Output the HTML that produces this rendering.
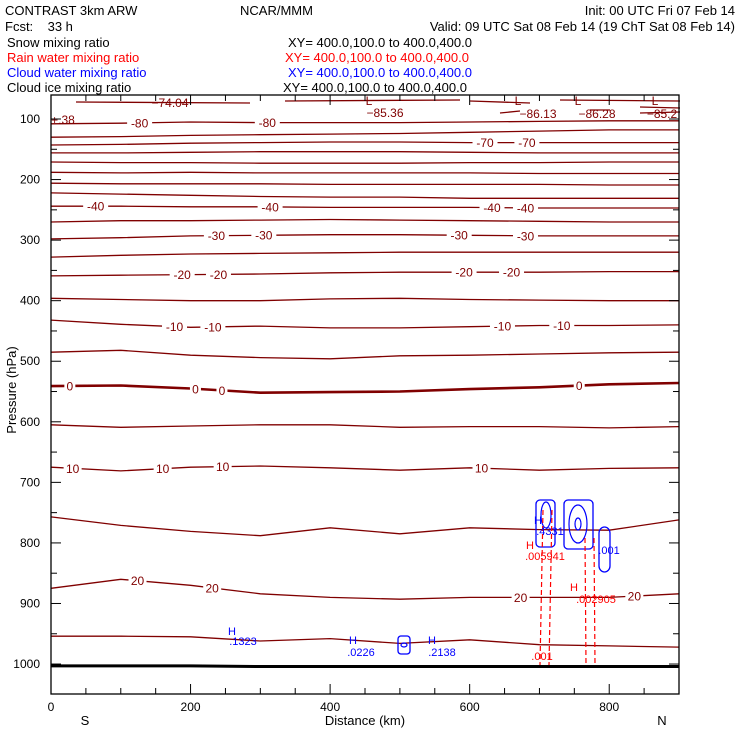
<!DOCTYPE html>
<html><head><meta charset="utf-8"><style>
html,body{margin:0;padding:0;background:#fff;}
svg{display:block;font-family:"Liberation Sans",sans-serif;}
</style></head><body>
<svg id="chart" width="740" height="740" viewBox="0 0 740 740">
<g font-size="13" fill="#000">
<text x="5" y="15">CONTRAST  3km ARW</text>
<text x="240" y="15">NCAR/MMM</text>
<text x="735" y="15" text-anchor="end">Init: 00 UTC Fri 07 Feb 14</text>
<text x="5" y="31" xml:space="preserve">Fcst:    33 h</text>
<text x="735" y="31" text-anchor="end">Valid: 09 UTC Sat 08 Feb 14 (19 ChT Sat 08 Feb 14)</text>
<text x="7" y="47">Snow mixing ratio</text>
<text x="288" y="47">XY= 400.0,100.0 to 400.0,400.0</text>
<text x="7" y="62" fill="#ff0000">Rain water mixing ratio</text>
<text x="285" y="62" fill="#ff0000">XY= 400.0,100.0 to 400.0,400.0</text>
<text x="7" y="77" fill="#0000ff">Cloud water mixing ratio</text>
<text x="288" y="77" fill="#0000ff">XY= 400.0,100.0 to 400.0,400.0</text>
<text x="7" y="92">Cloud ice mixing ratio</text>
<text x="283" y="92">XY= 400.0,100.0 to 400.0,400.0</text>
</g>
<g id="plot"></g>
<g id="axes"></g>
</svg>
<script>
// ---- data ----
const distKm = [0,100,200,300,400,500,600,700,800,900];
const levels = [-80,-75,-70,-65,-60,-55,-50,-45,-40,-35,-30,-25,-20,-15,-10,-5,0,5,10,15,20,25];
const levelP = [
 [108,107,105,106,106,106,105,104,103,103],
 [130,129,127,126,125,124,122,120,118,118],
 [143,142,140,139,138,138,139,139,139,139],
 [156,156,155,154,154,154,155,156,156,156],
 [171,172,172,173,173,173,172,172,171,171],
 [188,189,188,189,189,189,189,190,190,190],
 [206,207,207,207,208,208,208,208,209,209],
 [222,224,226,228,229,229,231,231,231,231],
 [244,244,245,245,246,246,246,247,247,247],
 [270,268,268,267,266,267,268,269,270,270],
 [298,296,293,292,291,291,292,293,293,293],
 [328,325,323,322,321,320,320,320,320,320],
 [359,358,357,356,354,353,353,353,352,352],
 [396,398,400,400,397,396,398,399,400,400],
 [432,439,444,442,445,445,443,441,441,440],
 [485,482,490,494,496,491,490,488,486,485],
 [541,540,545,552,551,550,546,543,538,536],
 [605,609,607,605,605,609,608,608,610,608],
 [675,681,675,673,676,680,676,680,677,676],
 [757,771,781,788,775,785,775,778,779,762],
 [875,860,870,884,890,893,890,890,890,884],
 [954,954,955,962,958,966,960,968,970,972]
];
const groundP = [1003,1003,1003,1004,1004,1004,1004,1004,1004,1004];
const labelLevels = [-80,-80,-70,-70,-40,-40,-40,-40,-30,-30,-30,-30,-20,-20,-20,-20,-10,-10,-10,-10,0,0,0,0,10,10,10,10,20,20,20,20];
const labelKm = [127,310,622,682,64,314,632,680,237,305,585,680,188,240,592,660,177,232,647,732,27,207,245,757,31,160,246,617,124,231,673,836];
const xTicksMajor = [0,200,400,600,800];
const yTicksMajor = [100,200,300,400,500,600,700,800,900,1000];

// ---- axes functions ----
const X0=51, X1=679, KMAX=900;
const xS = km => X0 + km*(X1-X0)/KMAX;
const yS = p => 119 + (p-100)*0.6056;
const YTOP=95, YBOT=694;
const NS="http://www.w3.org/2000/svg";
function mk(tag, attrs, parent){const e=document.createElementNS(NS,tag);for(const k in attrs)e.setAttribute(k,attrs[k]);parent.appendChild(e);return e;}
function interp(arr, km){const i=Math.min(Math.floor(km/100),8);const f=(km-i*100)/100;return arr[i]+(arr[i+1]-arr[i])*f;}
const plot=document.getElementById('plot'), axes=document.getElementById('axes');

// isotherms
levels.forEach((lv,i)=>{
  const d = distKm.map((k,j)=>(j?'L':'M')+xS(k).toFixed(1)+' '+yS(levelP[i][j]).toFixed(1)).join(' ');
  const p = mk('path',{d:d,fill:'none',stroke:'#800000','stroke-width':lv===0?2.6:1.3},plot);
  
  
});
// ground
{
  const d = distKm.map((k,j)=>(j?'L':'M')+xS(k).toFixed(1)+' '+yS(groundP[j]).toFixed(1)).join(' ');
  const g = mk('path',{d:d,fill:'none',stroke:'#000','stroke-width':3},plot);
  
  
}
// contour labels
labelLevels.forEach((lv,i)=>{
  const km=labelKm[i], li=levels.indexOf(lv);
  const x=xS(km), y=yS(interp(levelP[li],km));
  const txt=String(lv);
  const w=txt.length*7+4;
  const r=mk('rect',{x:x-w/2,y:y-6,width:w,height:12,fill:'#fff'},plot);
  
  
  const t=mk('text',{x:x,y:y+4.5,'text-anchor':'middle','font-size':12,fill:'#800000'},plot);
  t.textContent=txt;
  
  
});

// top region extras (min markers)
const topTexts=[["−74.04",170,107],["L",369,105],["−85.36",385,117],["L",518,105],["−86.13",538,118],["L",578,105],["−86.28",597,118],["L",655,105],["−85.2",662,118],["+.38",63,124]];
[[76,102,250,103],[285,101,460,100],[470,101,530,103],[560,100,680,101],[640,107,680,108],[640,113,680,112],[590,110,610,110],[500,113,520,111]].forEach(s=>{
  const l=mk('line',{x1:s[0],y1:s[1],x2:s[2],y2:s[3],stroke:'#800000','stroke-width':1.3},plot);
  
  
});
topTexts.forEach(a=>{
  const t=mk('text',{x:a[1],y:a[2],'text-anchor':'middle','font-size':12,fill:'#800000'},plot);
  t.textContent=a[0];
  
  
});

// cloud water (blue)
[[536,500,19,47,4],[564,500,29,49,4],[599,527,11,45,6],[398,636,12,18,3]].forEach(b=>{
  const r=mk('rect',{x:b[0],y:b[1],width:b[2],height:b[3],rx:b[4],fill:'none',stroke:'#0000ff','stroke-width':1.3},plot);
  
  
});
[[578,524,9,19],[578,524,3,6],[546,515,5,13],[404,645,3,2]].forEach(e=>{
  const c=mk('ellipse',{cx:e[0],cy:e[1],rx:e[2],ry:e[3],fill:'none',stroke:'#0000ff','stroke-width':1.2},plot);
  
  
});
// rain water (red dashed)
[[543,510,540,665],[552,510,549,665],[585,538,586,665],[594,538,595,665]].forEach(s=>{
  const l=mk('line',{x1:s[0],y1:s[1],x2:s[2],y2:s[3],stroke:'#ff0000','stroke-width':1.2,'stroke-dasharray':'5,3'},plot);
  
  
});
const blueT=[["H",232,635],[".1323",243,645],["H",353,644],[".0226",361,656],["H",432,644],[".2138",442,656],["H",538,524],[".4331",550,535],[".001",609,554]];
blueT.forEach(a=>{const t=mk('text',{x:a[1],y:a[2],'text-anchor':'middle','font-size':11,fill:'#0000ff'},plot);t.textContent=a[0];
  
  });
const redT=[["H",530,549],[".005941",545,560],["H",574,591],[".002905",596,603],[".001",542,660]];
redT.forEach(a=>{const t=mk('text',{x:a[1],y:a[2],'text-anchor':'middle','font-size':11,fill:'#ff0000'},plot);t.textContent=a[0];
  
  });

// frame
{const f=mk('rect',{x:X0,y:YTOP,width:X1-X0,height:YBOT-YTOP,fill:'none',stroke:'#000','stroke-width':1.3},axes);

}
// x ticks
for(let k=0;k<=KMAX;k+=50){
  const len = k%200===0?10:6, x=xS(k);
  const a=mk('line',{x1:x,y1:YBOT,x2:x,y2:YBOT-len,stroke:'#000'},axes);
  
  
  const b=mk('line',{x1:x,y1:YTOP,x2:x,y2:YTOP+len,stroke:'#000'},axes);
  
  
}
xTicksMajor.forEach(k=>{const t=mk('text',{x:xS(k),y:711,'text-anchor':'middle','font-size':12},axes);t.textContent=k;
  
  });
// y ticks
for(let p=100;p<=1050;p+=50){
  const y=yS(p); if(y<YTOP||y>YBOT)continue;
  const len=p%100===0?10:6;
  const a=mk('line',{x1:X0,y1:y,x2:X0+len,y2:y,stroke:'#000'},axes);
  
  
  const b=mk('line',{x1:X1,y1:y,x2:X1-len,y2:y,stroke:'#000'},axes);
  
  
}
yTicksMajor.forEach(p=>{const t=mk('text',{x:40,y:yS(p)+4,'text-anchor':'end','font-size':12},axes);t.textContent=p;
  
  });
// titles
[["S",85,725,"south-label"],["Distance (km)",365,725,"x-axis-title"],["N",662,725,"north-label"]].forEach(a=>{
  const t=mk('text',{x:a[1],y:a[2],'text-anchor':'middle','font-size':13},axes);t.textContent=a[0];
  
  });
{const t=mk('text',{x:16,y:390,'text-anchor':'middle','font-size':13,transform:'rotate(-90 16 390)'},axes);t.textContent='Pressure (hPa)';

}
</script>
</body></html>
